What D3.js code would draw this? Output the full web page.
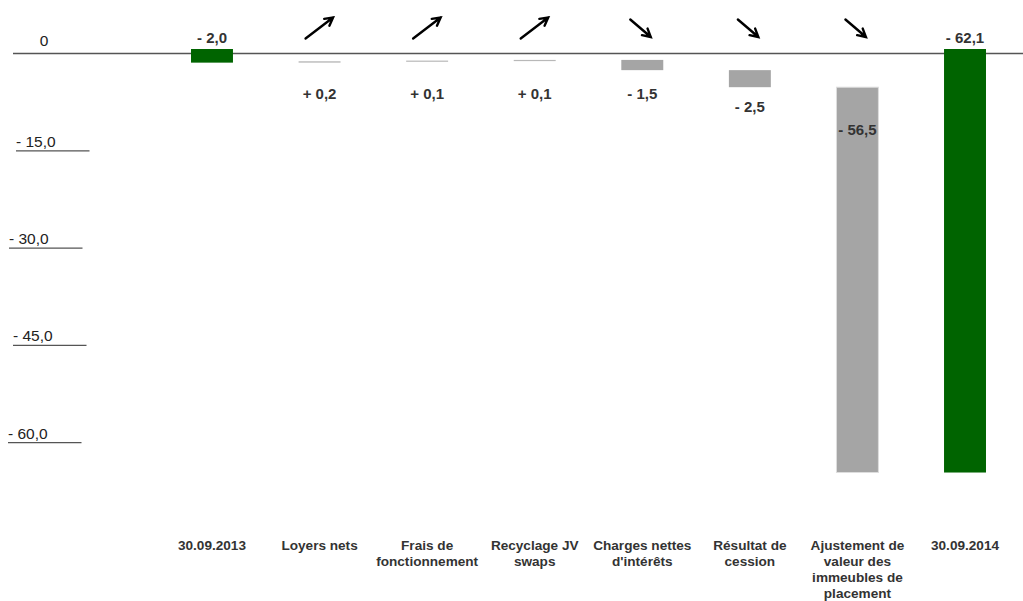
<!DOCTYPE html>
<html>
<head>
<meta charset="utf-8">
<script src="https://cdn.jsdelivr.net/npm/d3@7"></script>
<style>
  html, body { margin: 0; padding: 0; background: #fff; }
  svg { display: block; font-family: "Liberation Sans", Arial, sans-serif; }
</style>
</head>
<body>
<svg id="chart" width="1023" height="601"></svg>
<script>
// Bridge of the result, 30.09.2013 -> 30.09.2014 (in millions)
const categories = [
  ["30.09.2013"],
  ["Loyers nets"],
  ["Frais de", "fonctionnement"],
  ["Recyclage JV", "swaps"],
  ["Charges nettes", "d'intérêts"],
  ["Résultat de", "cession"],
  ["Ajustement de", "valeur des", "immeubles de", "placement"],
  ["30.09.2014"]
];
const values = [-2.0, 0.2, 0.1, 0.1, -1.5, -2.5, -56.5, -62.1];
const isTotal = [true, false, false, false, false, false, false, true];
const axisTicks = [0, -15, -30, -45, -60];
const axisTickLabels = ["0", "- 15,0", "- 30,0", "- 45,0", "- 60,0"];

// Waterfall segments: totals start at zero, steps start at the running sum
let running = 0;
const segments = values.map((v, i) => {
  let start, end;
  if (isTotal[i]) { start = 0; end = v; running = v; }
  else { start = running; end = running + v; running = end; }
  return { i, v, start, end, total: isTotal[i], lines: categories[i] };
});

const svg = d3.select("#chart");
const GREEN = "#006400", GREY = "#a5a5a5", TEXT = "#333333";

const x = d3.scaleBand()
  .domain(d3.range(categories.length))
  .range([158.2, 1018.8])
  .paddingInner(0.61)
  .paddingOuter(0.305);

const y = d3.scaleLinear().domain([0, -70]).range([49, 526.4]);
// the value axis on the left is laid out on its own scale
const yAxis = d3.scaleLinear().domain([0, -60]).range([53.5, 442.7]);

const fmt = v => (v >= 0 ? "+ " : "- ") + d3.format(".1f")(Math.abs(v)).replace(".", ",");

// zero line
svg.append("line")
  .attr("x1", 13).attr("x2", 1023)
  .attr("y1", yAxis(0)).attr("y2", yAxis(0))
  .attr("stroke", "#555").attr("stroke-width", 1.4);

// left axis: underlined labels
const tickShift = [0, 6, -1, 3, -2];
const ax = svg.append("g");
axisTicks.forEach((t, k) => {
  if (t === 0) {
    ax.append("text")
      .attr("x", 44).attr("y", yAxis(0) - 7.5)
      .attr("text-anchor", "middle")
      .attr("font-size", 15.5).attr("fill", "#222")
      .text(axisTickLabels[k]);
  } else {
    const x0 = 10 + tickShift[k];
    ax.append("text")
      .attr("x", x0).attr("y", yAxis(t) - 4)
      .attr("font-size", 15.5).attr("fill", "#222")
      .text(axisTickLabels[k]);
    ax.append("line")
      .attr("x1", x0).attr("x2", x0 + 73.5)
      .attr("y1", yAxis(t)).attr("y2", yAxis(t))
      .attr("stroke", "#555").attr("stroke-width", 1.3);
  }
});

// bars
svg.append("g").selectAll("rect")
  .data(segments)
  .join("rect")
  .attr("x", d => x(d.i))
  .attr("width", x.bandwidth())
  .attr("y", d => Math.min(y(d.start), y(d.end)))
  .attr("height", d => Math.max(1.2, Math.abs(y(d.end) - y(d.start))))
  .attr("fill", d => d.total ? GREEN : (Math.abs(d.v) < 1 ? "#b8b8b8" : GREY))
  .attr("stroke", d => (!d.total && Math.abs(y(d.end) - y(d.start)) > 100) ? "#dedede" : "none")
  .attr("stroke-width", 1);

// value labels
svg.append("g").selectAll("text")
  .data(segments)
  .join("text")
  .attr("x", d => x(d.i) + x.bandwidth() / 2)
  .attr("y", d => {
    const top = Math.min(y(d.start), y(d.end));
    const bottom = Math.max(y(d.start), y(d.end));
    if (d.total) return top - 6;
    if (bottom - top > 100) return top + 48;
    return Math.max(bottom + 24.5, 99);
  })
  .attr("text-anchor", "middle")
  .attr("font-size", 15).attr("font-weight", "bold").attr("fill", TEXT)
  .text(d => fmt(d.v));

// direction arrows above the steps
const arrows = svg.append("g")
  .attr("stroke", "#000").attr("stroke-width", 2.4)
  .attr("stroke-linecap", "round").attr("fill", "none");
segments.filter(d => !d.total).forEach(d => {
  const cx = x(d.i) + x.bandwidth() / 2;
  let x1, y1, x2, y2;
  if (d.v > 0) { x1 = cx - 14; y1 = 38.5; x2 = cx + 13.5; y2 = 17.5; }
  else { x1 = cx - 12; y1 = 19.5; x2 = cx + 8.5; y2 = 37; }
  const ang = Math.atan2(y2 - y1, x2 - x1);
  const len = 9, spread = 0.5;
  arrows.append("path").attr("d",
    `M${x1},${y1}L${x2},${y2}` +
    `M${x2 - len * Math.cos(ang - spread)},${y2 - len * Math.sin(ang - spread)}L${x2},${y2}` +
    `L${x2 - len * Math.cos(ang + spread)},${y2 - len * Math.sin(ang + spread)}`)
    .attr("stroke-linejoin", "miter");
});

// category labels
const cat = svg.append("g");
segments.forEach(d => {
  const t = cat.append("text")
    .attr("x", x(d.i) + x.bandwidth() / 2)
    .attr("y", 550)
    .attr("text-anchor", "middle")
    .attr("font-size", 13.6).attr("font-weight", "bold").attr("fill", TEXT);
  d.lines.forEach((ln, k) => {
    t.append("tspan")
      .attr("x", x(d.i) + x.bandwidth() / 2)
      .attr("dy", k === 0 ? 0 : 16)
      .text(ln);
  });
});
</script>
</body>
</html>
